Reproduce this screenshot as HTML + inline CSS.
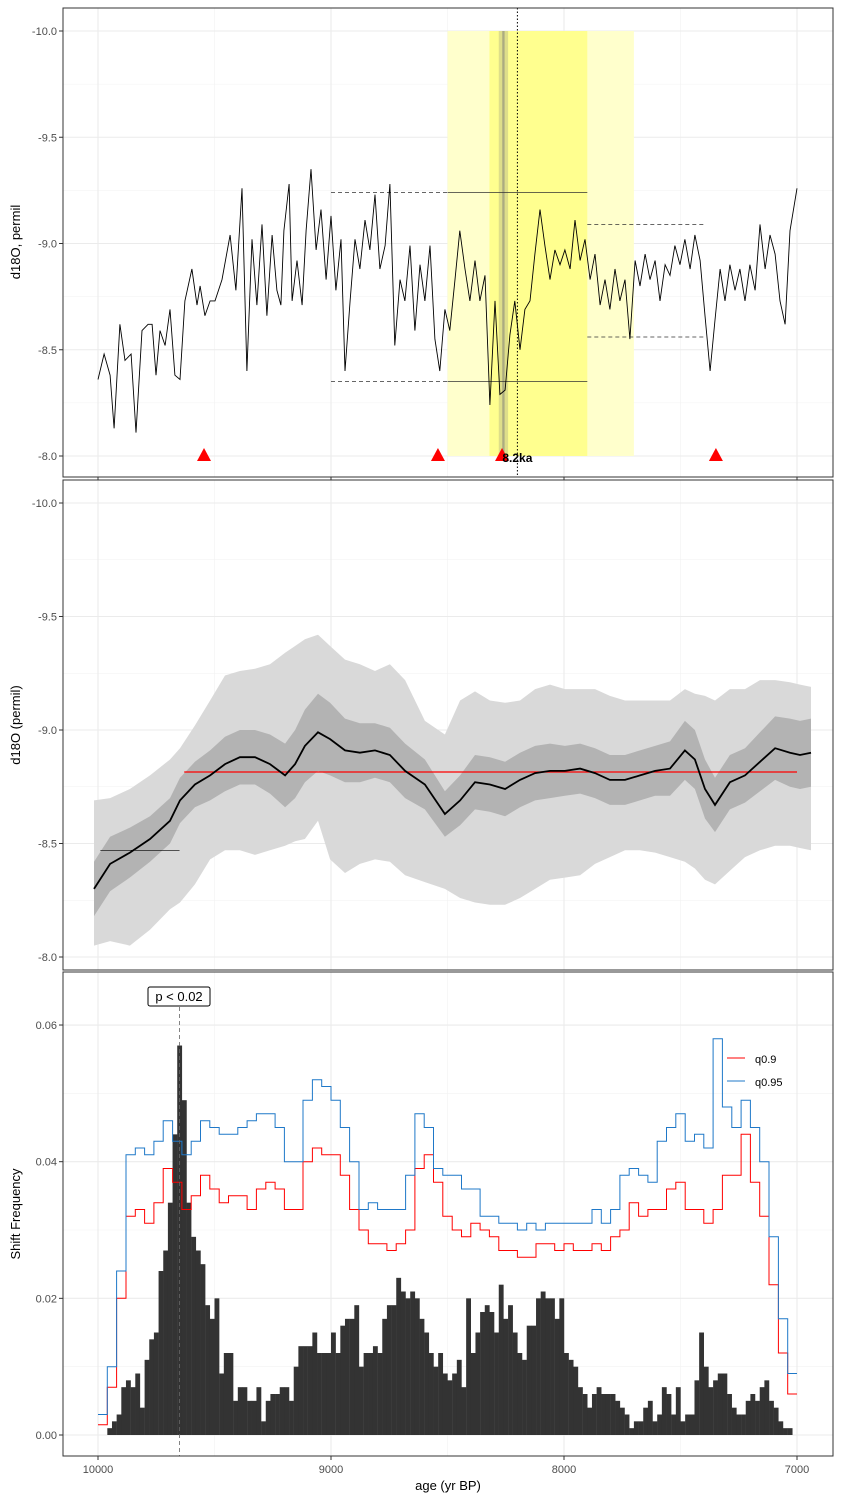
<!DOCTYPE html>
<html><head><meta charset="utf-8"><style>
html,body{margin:0;padding:0;background:#fff;}
svg{display:block;font-family:"Liberation Sans",sans-serif;}
</style></head><body>
<svg id="chart" width="841" height="1501" viewBox="0 0 841 1501" xmlns="http://www.w3.org/2000/svg"></svg>
<script>
// ---------- data ----------
const xTickAges = [10000, 9000, 8000, 7000];
const xTickLabels = ["10000", "9000", "8000", "7000"];
const p1Ticks = [-10.0, -9.5, -9.0, -8.5, -8.0];
const p1TickLabels = ["-10.0", "-9.5", "-9.0", "-8.5", "-8.0"];
const p3Ticks = [0, 0.02, 0.04, 0.06];
const p3TickLabels = ["0.00", "0.02", "0.04", "0.06"];

const rawAges = [10000,9974,9948,9931,9906,9884,9858,9837,9811,9785,9768,9751,9734,9712,9691,9670,9648,9627,9597,9575,9562,9541,9519,9498,9468,9433,9408,9382,9361,9339,9318,9296,9275,9253,9232,9215,9202,9180,9167,9146,9124,9107,9086,9064,9043,9021,9000,8979,8957,8940,8918,
8897,8876,8854,8833,8811,8790,8768,8747,8726,8704,8683,8661,8640,8618,8597,8575,8554,8533,8511,8490,8468,8447,8425,8404,8382,8361,8339,8318,8296,8275,8253,8232,8211,8189,8168,8146,8125,8103,8082,8060,8039,8017,7996,7974,7953,7931,7910,7888,7867,7845,7824,7803,7781,7760,7738,7717,7695,7674,7652,7631,7609,7588,7566,7545,7524,7502,7481,7459,7438,7416,7395,7373,7352,7330,7309,7288,7266,7245,7223,7202,7180,7159,7137,7116,7094,7073,7051,7030,7000];
const rawD18O = [-8.36,-8.48,-8.38,-8.13,-8.62,-8.45,-8.48,-8.11,-8.59,-8.62,-8.62,-8.38,-8.59,-8.52,-8.69,-8.38,-8.36,-8.73,-8.88,-8.71,-8.80,-8.66,-8.73,-8.73,-8.83,-9.04,-8.78,-9.26,-8.40,-9.02,-8.71,-9.09,-8.66,-9.04,-8.78,-8.71,-9.06,-9.28,-8.73,-8.92,-8.71,-9.06,-9.35,-8.97,-9.16,-8.83,-9.13,-8.78,-9.02,-8.40,-8.73,
-9.02,-8.88,-9.11,-8.97,-9.23,-8.88,-8.99,-9.28,-8.52,-8.83,
-8.73,-8.99,-8.59,-8.90,-8.73,-8.99,-8.55,-8.40,-8.69,-8.59,
-8.83,-9.06,-8.88,-8.73,-8.92,-8.73,-8.85,-8.24,-8.73,-8.29,
-8.31,-8.57,-8.73,-8.50,-8.69,-8.73,-8.95,-9.16,-8.99,-8.83,
-8.97,-8.90,-8.97,-8.88,-9.11,-8.92,-9.02,-8.83,-8.95,-8.71,
-8.83,-8.69,-8.88,-8.73,-8.83,-8.55,-8.92,-8.80,-8.95,-8.83,
-8.92,-8.73,-8.90,-8.85,-8.99,-8.90,-9.02,-8.88,-9.04,-8.92,
-8.66,-8.40,-8.64,-8.88,-8.73,-8.90,-8.78,-8.88,-8.73,-8.90,
-8.78,-9.09,-8.88,-9.04,-8.95,-8.73,-8.62,-9.06,-9.26];
const shiftAges = [9545, 8541, 8266, 7348];
const segLeft = {start: 9000, end: 7900, hi: -9.24, lo: -8.35, solidFrom: 8500};
const segRight = {start: 7900, end: 7400, hi: -9.09, lo: -8.56};

const smAges = [10017,9948,9863,9777,9691,9648,9584,9519,9455,9391,9326,9262,9197,9154,9112,9056,9004,8940,8876,8811,8747,8682,8597,8511,8446,8382,8318,8253,8189,8124,8060,7996,7931,7867,7803,7738,7674,7609,7545,7481,7438,7395,7352,7288,7223,7159,7094,7030,6987,6940];
const smMean = [-8.30,-8.41,-8.46,-8.52,-8.60,-8.69,-8.76,-8.80,-8.85,-8.88,-8.88,-8.85,-8.80,-8.85,-8.93,-8.99,-8.96,-8.91,-8.90,-8.91,-8.89,-8.82,-8.76,-8.63,-8.69,-8.77,-8.76,-8.74,-8.78,-8.81,-8.82,-8.82,-8.83,-8.81,-8.78,-8.78,-8.80,-8.82,-8.83,-8.91,-8.87,-8.74,-8.67,-8.77,-8.80,-8.86,-8.92,-8.90,-8.89,-8.90];
const smInnerHalf = [0.12,0.12,0.11,0.10,0.10,0.10,0.10,0.11,0.12,0.12,0.12,0.13,0.14,0.15,0.16,0.17,0.16,0.14,0.13,0.12,0.12,0.12,0.11,0.10,0.11,0.12,0.12,0.12,0.12,0.12,0.12,0.11,0.11,0.11,0.11,0.11,0.11,0.11,0.12,0.13,0.13,0.13,0.12,0.12,0.12,0.13,0.14,0.15,0.15,0.15];
const smOuterHi = [-8.69,-8.70,-8.74,-8.80,-8.87,-8.92,-9.02,-9.13,-9.24,-9.26,-9.27,-9.29,-9.34,-9.37,-9.40,-9.42,-9.37,-9.31,-9.29,-9.26,-9.29,-9.22,-9.04,-8.98,-9.13,-9.17,-9.13,-9.12,-9.13,-9.18,-9.20,-9.18,-9.18,-9.18,-9.15,-9.13,-9.13,-9.13,-9.13,-9.18,-9.16,-9.15,-9.13,-9.18,-9.18,-9.22,-9.22,-9.21,-9.20,-9.19];
const smOuterLo = [-8.05,-8.07,-8.05,-8.12,-8.21,-8.24,-8.32,-8.43,-8.47,-8.47,-8.45,-8.47,-8.49,-8.51,-8.52,-8.60,-8.43,-8.37,-8.41,-8.43,-8.42,-8.36,-8.33,-8.30,-8.26,-8.24,-8.23,-8.23,-8.26,-8.30,-8.34,-8.35,-8.36,-8.41,-8.44,-8.47,-8.47,-8.46,-8.44,-8.42,-8.39,-8.34,-8.32,-8.38,-8.44,-8.47,-8.49,-8.49,-8.48,-8.47];
const meanLevelEarly = {start: 9990, end: 9650, value: -8.47};
const meanLevelLate = {start: 9630, end: 7000, value: -8.815};

const histStart = 9960, histBin = 20;
const histFreq = [1,2,3,7,8,7,9,4,11,14,15,24,27,34,44,57,49,34,29,27,25,19,17,20,9,12,12,5,7,7,5,5,7,2,5,6,6,7,7,5,10,13,13,13,15,12,12,12,15,12,16,17,17,19,10,12,12,13,12,17,19,19,23,21,20,21,20,17,15,12,10,12,9,8,
9,11,7,20,12,15,18,19,18,15,22,17,19,15,12,11,16,16,20,21,20,20,17,20,12,11,10,7,6,4,6,7,6,6,6,5,4,3,1,2,2,4,5,2,3,7,6,3,7,2,3,3,8,15,10,7,8,9,9,6,4,3,3,5,6,5,7,8,5,4,2,1,1,0];
const qStart = 10000, qBin = 40;
const q95 = [3,10,24,41,42,41,43,46,43,41,43,46,45,44,44,45,46,47,47,45,40,40,49,52,51,49,45,40,33,34,33,33,33,38,47,45,39,38,38,36,36,32,32,31,31,30,31,30,31,31,31,31,31,33,31,33,38,39,38,37,43,45,47,43,44,42,58,48,45,49,45,40,29,17,9];
const q90 = [1.5,7,20,32,33,31,34,39,37,33,35,38,36,34,35,35,33,36,37,36,33,33,40,42,41,41,38,33,30,28,28,27,28,30,39,41,37,32,30,29,31,30,29,27,27,26,26,28,28,27,28,27,27,28,27,29,30,34,32,33,33,36,37,33,33,31,33,38,38,44,37,32,22,12,6];

// ---------- helpers ----------
const NS = "http://www.w3.org/2000/svg";
const svg = document.getElementById("chart");
function mk(tag, attrs, parent) {
  const e = document.createElementNS(NS, tag);
  for (const k in attrs) e.setAttribute(k, attrs[k]);
  (parent || svg).appendChild(e);
  return e;
}
const L = 63, R = 833;
const X = a => 98 + (10000 - a) * 0.233;
const Y1 = v => 31 + (v + 10) * 212.5;
const Y2 = v => 503 + (v + 10) * 227;
const Y3 = f => 1435 - f * 6833;
const panels = [{top: 8, bot: 477}, {top: 480, bot: 970}, {top: 972, bot: 1456}];

function grid(p, yMajor, yMinor, Y) {
  const g = mk("g", {});
  
  
  [9500, 8500, 7500].forEach(a => mk("line", {x1: X(a), x2: X(a), y1: p.top, y2: p.bot, stroke: "#f2f2f2", "stroke-width": 0.6}, g));
  yMinor.forEach(v => mk("line", {x1: L, x2: R, y1: Y(v), y2: Y(v), stroke: "#f2f2f2", "stroke-width": 0.6}, g));
  xTickAges.forEach(a => mk("line", {x1: X(a), x2: X(a), y1: p.top, y2: p.bot, stroke: "#ebebeb", "stroke-width": 1.1}, g));
  yMajor.forEach(v => mk("line", {x1: L, x2: R, y1: Y(v), y2: Y(v), stroke: "#ebebeb", "stroke-width": 1.1}, g));
}
function frame(p, name) {
  const r = mk("rect", {x: L, y: p.top, width: R - L, height: p.bot - p.top, fill: "none", stroke: "#333", "stroke-width": 1});
  
  
}
function yAxis(ticks, labels, Y, name) {
  const g = mk("g", {});
  
  
  ticks.forEach((v, i) => {
    mk("line", {x1: L - 4, x2: L, y1: Y(v), y2: Y(v), stroke: "#333"}, g);
    const t = mk("text", {x: L - 6, y: Y(v) + 4, "text-anchor": "end", "font-size": 11, fill: "#4d4d4d"}, g);
    t.textContent = labels[i];
  });
}
function xTicks(p, withLabels) {
  const g = mk("g", {});
  
  
  xTickAges.forEach((a, i) => {
    mk("line", {x1: X(a), x2: X(a), y1: p.bot, y2: p.bot + 4, stroke: "#333"}, g);
    if (withLabels) {
      const t = mk("text", {x: X(a), y: p.bot + 17, "text-anchor": "middle", "font-size": 11, fill: "#4d4d4d"}, g);
      t.textContent = xTickLabels[i];
    }
  });
}
function yTitle(text, cy, name) {
  const t = mk("text", {x: 0, y: 0, transform: `translate(20,${cy}) rotate(-90)`, "text-anchor": "middle", "font-size": 13, fill: "#000"});
  t.textContent = text;
  
  
}

// ---------- panel 1 ----------
const P1 = panels[0];
grid(P1, p1Ticks, [-9.75, -9.25, -8.75, -8.25], Y1);
let e;
e = mk("rect", {x: X(8500), y: Y1(-10), width: X(7700) - X(8500), height: Y1(-8) - Y1(-10), fill: "#ffffcc"});


e = mk("rect", {x: X(8320), y: Y1(-10), width: X(7900) - X(8320), height: Y1(-8) - Y1(-10), fill: "#ffff8f"});


e = mk("rect", {x: X(8280), y: Y1(-10), width: X(8240) - X(8280), height: Y1(-8) - Y1(-10), fill: "#a0a080", opacity: 0.35});


e = mk("rect", {x: X(8265), y: Y1(-10), width: X(8255) - X(8265), height: Y1(-8) - Y1(-10), fill: "#777", opacity: 0.5});



// mean segment lines
function seg(a1, a2, v, dash, name) {
  const l = mk("line", {x1: X(a1), x2: X(a2), y1: Y1(v), y2: Y1(v), stroke: "#333", "stroke-width": 0.8, "stroke-dasharray": dash ? "4,3" : "none"});
  
  
}
seg(segLeft.start, segLeft.solidFrom, segLeft.hi, true, 'pre-event-upper-dashed');
seg(segLeft.solidFrom, segLeft.end, segLeft.hi, false, 'event-upper-line');
seg(segLeft.start, segLeft.solidFrom, segLeft.lo, true, 'pre-event-lower-dashed');
seg(segLeft.solidFrom, segLeft.end, segLeft.lo, false, 'event-lower-line');
seg(segRight.start, segRight.end, segRight.hi, true, 'post-event-upper-dashed');
seg(segRight.start, segRight.end, segRight.lo, true, 'post-event-lower-dashed');

e = mk("path", {d: rawAges.map((a, i) => (i ? "L" : "M") + X(a).toFixed(1) + "," + Y1(rawD18O[i]).toFixed(1)).join(""), fill: "none", stroke: "#000", "stroke-width": 0.9});



e = mk("line", {x1: X(8200), x2: X(8200), y1: P1.top, y2: P1.bot, stroke: "#000", "stroke-width": 1, "stroke-dasharray": "1.5,2"});



shiftAges.forEach(a => {
  const x = X(a), y = Y1(-8);
  const tri = mk("polygon", {points: `${x - 7},${y + 5} ${x + 7},${y + 5} ${x},${y - 8}`, fill: "#ff0000"});
  
  
});
e = mk("text", {x: X(8200), y: Y1(-8) + 6, "text-anchor": "middle", "font-size": 12, "font-weight": "bold", fill: "#000"});
e.textContent = "8.2ka";


frame(P1, 'panel-raw-frame');
yAxis(p1Ticks, p1TickLabels, Y1, 'y-axis-raw');
xTicks(P1, false);
yTitle("d18O, permil", 242, 'y-axis-title-raw');

// ---------- panel 2 ----------
const P2 = panels[1];
grid(P2, p1Ticks, [-9.75, -9.25, -8.75, -8.25], Y2);
function band(hiArr, loArr, fill, name) {
  const top = smAges.map((a, i) => X(a).toFixed(1) + "," + Y2(hiArr[i]).toFixed(1));
  const bot = smAges.map((a, i) => X(a).toFixed(1) + "," + Y2(loArr[i]).toFixed(1)).reverse();
  const p = mk("polygon", {points: top.concat(bot).join(" "), fill: fill});
  
  
}
band(smOuterHi, smOuterLo, "#d9d9d9", 'outer-confidence-band');
band(smMean.map((m, i) => m - smInnerHalf[i]), smMean.map((m, i) => m + smInnerHalf[i]), "#b3b3b3", 'inner-confidence-band');
e = mk("line", {x1: X(meanLevelEarly.start), x2: X(meanLevelEarly.end), y1: Y2(meanLevelEarly.value), y2: Y2(meanLevelEarly.value), stroke: "#000", "stroke-width": 0.7});


e = mk("line", {x1: X(meanLevelLate.start), x2: X(meanLevelLate.end), y1: Y2(meanLevelLate.value), y2: Y2(meanLevelLate.value), stroke: "#ff0000", "stroke-width": 1.2});


e = mk("path", {d: smAges.map((a, i) => (i ? "L" : "M") + X(a).toFixed(1) + "," + Y2(smMean[i]).toFixed(1)).join(""), fill: "none", stroke: "#000", "stroke-width": 1.8});


frame(P2, 'panel-smoothed-frame');
yAxis(p1Ticks, p1TickLabels, Y2, 'y-axis-smoothed');
yTitle("d18O (permil)", 725, 'y-axis-title-smoothed');

// ---------- panel 3 ----------
const P3 = panels[2];
grid(P3, p3Ticks, [0.01, 0.03, 0.05], Y3);
histFreq.forEach((f, i) => {
  const a = histStart - i * histBin;
  const r = mk("rect", {x: X(a), y: Y3(f / 1000), width: X(a - histBin) - X(a) + 0.2, height: Y3(0) - Y3(f / 1000), fill: "#333333"});
  
  
});
function stepPath(arr, color, name) {
  let d = "";
  arr.forEach((v, i) => {
    const a = qStart - i * qBin;
    const y = Y3(v / 1000).toFixed(1);
    d += (i ? "L" : "M") + X(a).toFixed(1) + "," + y + "L" + X(a - qBin).toFixed(1) + "," + y;
  });
  const p = mk("path", {d: d, fill: "none", stroke: color, "stroke-width": 1});
  
  
}
stepPath(q90, "#ff0000", 'q0-9-line');
stepPath(q95, "#1f78c8", 'q0-95-line');
e = mk("line", {x1: X(9650), x2: X(9650), y1: 1007, y2: P3.bot, stroke: "#666", "stroke-width": 0.8, "stroke-dasharray": "4,3"});


const pg = mk("g", {});


mk("rect", {x: 148, y: 987, width: 62, height: 19, rx: 2, fill: "#fff", stroke: "#000", "stroke-width": 1}, pg);
e = mk("text", {x: 179, y: 1001, "text-anchor": "middle", "font-size": 13, fill: "#000"}, pg);
e.textContent = "p < 0.02";
const lg = mk("g", {});


mk("line", {x1: 727, x2: 745, y1: 1058, y2: 1058, stroke: "#ff0000"}, lg);
e = mk("text", {x: 755, y: 1063, "font-size": 11, fill: "#000"}, lg);
e.textContent = "q0.9";
mk("line", {x1: 727, x2: 745, y1: 1081, y2: 1081, stroke: "#1f78c8"}, lg);
e = mk("text", {x: 755, y: 1086, "font-size": 11, fill: "#000"}, lg);
e.textContent = "q0.95";
frame(P3, 'panel-frequency-frame');
yAxis(p3Ticks, p3TickLabels, Y3, 'y-axis-frequency');
xTicks(P3, true);
yTitle("Shift Frequency", 1214, 'y-axis-title-frequency');
e = mk("text", {x: 448, y: 1490, "text-anchor": "middle", "font-size": 13, fill: "#000"});
e.textContent = "age (yr BP)";


</script>
</body></html>
